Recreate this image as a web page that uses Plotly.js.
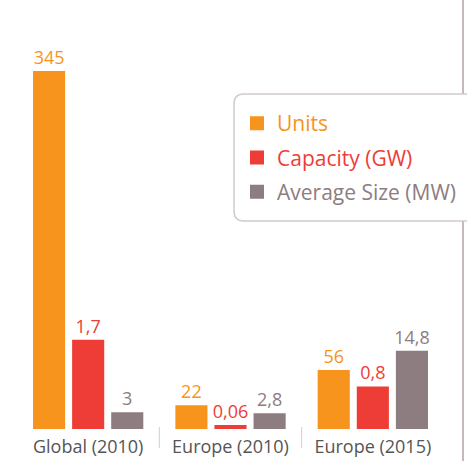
<!DOCTYPE html>
<html>
<head>
<meta charset="utf-8">
<script src="https://cdn.plot.ly/plotly-3.0.1.min.js"></script>
<style>html,body{margin:0;padding:0;background:#fff;}#chart{width:467px;height:461px;}</style>
</head>
<body>
<div id="chart"></div>
<script>
const categories = ['Global (2010)', 'Europe (2010)', 'Europe (2015)'];
const units = [345, 22, 56];
const capacityGW = [1.7, 0.06, 0.8];
const avgSizeMW = [3, 2.8, 14.8];
const seriesNames = ['Units', 'Capacity (GW)', 'Average Size (MW)'];
const colors = ['#F7941D', '#EE3D36', '#8D7D80'];

const W = 467, H = 461;
const M = {l: 17, r: 23, t: 20, b: 32, autoexpand: false};
const PW = W - M.l - M.r, PH = H - M.t - M.b;
const X = px => (px - M.l) / PW;
const Y = py => (H - M.b - py) / PH;
const fmt = v => String(v).replace('.', ',');
const FONT = 'Open Sans, sans-serif';

const series = [units, capacityGW, avgSizeMW];
const axes = ['y', 'y2', 'y3'];
const traces = series.map((vals, i) => ({
  type: 'bar',
  x: categories,
  y: vals,
  yaxis: axes[i],
  offsetgroup: String(i + 1),
  legendgroup: 'g' + i,
  name: '<span style="color:' + colors[i] + '">' + seriesNames[i] + '</span>',
  marker: {color: colors[i], line: {color: colors[i], width: 2}},
  text: vals.map(fmt),
  textposition: 'outside',
  textfont: {color: colors[i], size: 18, family: FONT},
  constraintext: 'none',
  cliponaxis: false,
  hoverinfo: 'skip'
}));

const r = 10;
const boxPath = 'M ' + X(234 + r) + ',' + Y(94) +
  ' L ' + X(490) + ',' + Y(94) +
  ' L ' + X(490) + ',' + Y(221) +
  ' L ' + X(234 + r) + ',' + Y(221) +
  ' Q ' + X(234) + ',' + Y(221) + ' ' + X(234) + ',' + Y(221 - r) +
  ' L ' + X(234) + ',' + Y(94 + r) +
  ' Q ' + X(234) + ',' + Y(94) + ' ' + X(234 + r) + ',' + Y(94) + ' Z';

const layout = {
  width: W, height: H,
  margin: M,
  paper_bgcolor: '#ffffff',
  plot_bgcolor: '#ffffff',
  font: {family: FONT, color: '#555555'},
  barmode: 'group',
  bargap: 0.176,
  bargroupgap: 0.23,
  showlegend: true,
  legend: {
    x: X(237), y: Y(103), xanchor: 'left', yanchor: 'top',
    bgcolor: 'rgba(0,0,0,0)', borderwidth: 0,
    font: {size: 21, family: FONT},
    tracegroupgap: 4
  },
  xaxis: {
    type: 'category', showgrid: false, zeroline: false, showline: false,
    ticks: '', ticklabelstandoff: 5, automargin: false,
    tickfont: {size: 18, color: '#555555', family: FONT},
    fixedrange: true
  },
  yaxis: {range: [0, 395.2], visible: false, fixedrange: true},
  yaxis2: {range: [0, 7.88], visible: false, overlaying: 'y', fixedrange: true},
  yaxis3: {range: [0, 78.3], visible: false, overlaying: 'y', fixedrange: true},
  shapes: [
    {type: 'line', xref: 'paper', yref: 'paper', x0: X(463), x1: X(463), y0: Y(-5), y1: Y(470),
     line: {color: '#C4B9BC', width: 2}, layer: 'above'},
    {type: 'path', xref: 'paper', yref: 'paper', path: boxPath,
     fillcolor: '#ffffff', line: {color: '#D2CACC', width: 1.5}, layer: 'above'},
    {type: 'line', xref: 'x', yref: 'paper', x0: 0.5, x1: 0.5, y0: Y(448), y1: Y(427),
     line: {color: '#CFCFCF', width: 1}},
    {type: 'line', xref: 'x', yref: 'paper', x0: 1.5, x1: 1.5, y0: Y(448), y1: Y(427),
     line: {color: '#CFCFCF', width: 1}}
  ]
};

Plotly.newPlot('chart', traces, layout, {displayModeBar: false, staticPlot: true});
</script>
</body>
</html>
